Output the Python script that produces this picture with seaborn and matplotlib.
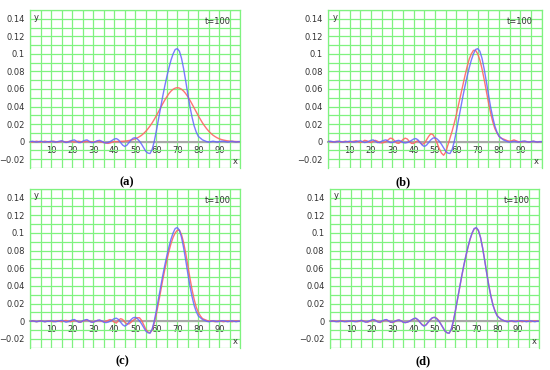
import numpy as np
import pandas as pd
import seaborn as sns
import matplotlib.pyplot as plt
from matplotlib.ticker import MultipleLocator, FixedLocator

# ---------------- data ----------------
X = list(range(0, 101))

BLUE = [0, 0.0005, 0, -0.0005, 0, 0.0005, 0, -0.0005, 0, 0,
        0.0005, 0, -0.0005, 0, 0.0005, 0.001, 0, -0.001, -0.0005, 0.0005,
        0.0015, 0.002, 0.0005, -0.001, -0.001, 0.0005, 0.0015, 0.002, 0.0005, -0.001,
        -0.001, 0, 0.001, 0.0015, 0.0005, -0.001, -0.0015, -0.001, 0, 0.0015,
        0.003, 0.0035, 0.002, -0.001, -0.004, -0.0055, -0.004, -0.001, 0.002, 0.004,
        0.0045, 0.003, 0.0005, -0.003, -0.007, -0.011, -0.013, -0.0135, -0.009, 0.0,
        0.012, 0.025, 0.038, 0.051, 0.063, 0.074, 0.084, 0.093, 0.1, 0.105,
        0.106, 0.103, 0.095, 0.083, 0.069, 0.054, 0.04, 0.028, 0.018, 0.011,
        0.006, 0.004, 0.002, 0.001, 0, -0.0005, 0, 0.0005, 0, -0.0005,
        0, 0.0005, 0.0005, 0, -0.0005, 0, 0.0005, 0, -0.0005, 0, 0]

RED_A = [0, -0.0005, 0, 0.0005, 0, -0.0005, 0, 0.0005, 0, -0.0005,
         0, 0.0005, 0, -0.0005, 0, 0.0005, 0, -0.0005, 0, 0.0005,
         0, -0.0005, 0, 0.0005, 0, -0.0005, 0, 0.0005, 0, 0,
         -0.0005, 0, 0.0005, 0, -0.0005, -0.001, -0.0015, -0.002, -0.0015, -0.0005,
         0, 0.0001, 0.0002, 0.0003, 0.0004, 0.0006, 0.0009, 0.0013, 0.0018, 0.0024,
         0.0032, 0.0043, 0.0057, 0.0073, 0.0094, 0.0118, 0.0146, 0.0178, 0.0213, 0.0253,
         0.0295, 0.0339, 0.0384, 0.0429, 0.0472, 0.0512, 0.0547, 0.0576, 0.0597, 0.061,
         0.0615, 0.061, 0.0597, 0.0576, 0.0547, 0.0512, 0.0472, 0.0429, 0.0384, 0.0339,
         0.0295, 0.0253, 0.0213, 0.0178, 0.0146, 0.0118, 0.0094, 0.0073, 0.0057, 0.0043,
         0.0032, 0.0024, 0.0018, 0.0013, 0.0009, 0.0006, 0.0004, 0.0002, 0.0001, 0, 0]

RED_B = [0.0005, 0, -0.0005, 0, 0.0005, 0, -0.0005, 0, 0.0005, 0,
         -0.0005, 0, 0.0005, 0.001, 0, -0.001, 0, 0.0015, 0.001, -0.0005,
         -0.001, 0.0005, 0.0015, 0.0005, -0.001, -0.0015, -0.001, 0, 0.002, 0.004,
         0.0035, 0.001, -0.0015, -0.002, 0, 0.0025, 0.004, 0.003, 0, -0.002,
         -0.002, 0, 0.001, -0.001, -0.003, -0.002, 0.002, 0.006, 0.009, 0.008,
         0.004, -0.002, -0.008, -0.013, -0.0155, -0.012, -0.004, 0.004, 0.012, 0.021,
         0.031, 0.042, 0.053, 0.064, 0.075, 0.085, 0.094, 0.1, 0.104, 0.104,
         0.1, 0.093, 0.083, 0.071, 0.058, 0.045, 0.033, 0.023, 0.015, 0.01,
         0.006, 0.004, 0.003, 0.002, 0.001, 0.0005, 0.001, 0.002, 0.001, 0,
         -0.0005, 0, 0.0005, 0, -0.0005, 0, 0.0005, 0, -0.0005, 0, 0]

RED_C = [0, 0.0005, 0, -0.0005, 0, 0.0005, 0, -0.0005, 0, 0.0005,
         0, -0.0005, 0, 0.0005, 0, -0.0005, 0.0005, 0.001, 0, -0.0005,
         0, 0.001, 0.0005, -0.0005, -0.001, 0, 0.001, 0.0015, 0.0005, -0.0005,
         -0.001, 0, 0.001, 0.001, 0, -0.0005, 0, 0.001, 0.002, 0.001,
         -0.001, -0.002, 0.001, 0.003, 0.002, -0.001, -0.003, -0.003, -0.001, 0.001,
         0.003, 0.004, 0.004, 0.001, -0.004, -0.009, -0.012, -0.013, -0.01, -0.002,
         0.008, 0.02, 0.033, 0.046, 0.058, 0.069, 0.079, 0.088, 0.095, 0.1,
         0.103, 0.103, 0.098, 0.089, 0.077, 0.063, 0.049, 0.036, 0.025, 0.016,
         0.01, 0.006, 0.003, 0.002, 0.001, 0, 0.0005, 0, -0.0005, 0,
         0.0005, 0, -0.0005, 0, 0.0005, 0, -0.0005, 0, 0.0005, 0, 0]

RED_D = [0, 0, 0.0005, 0, -0.0005, 0, 0.0005, 0, -0.0005, 0,
         0, 0.0005, 0, -0.0005, 0, 0.001, 0.0005, -0.0005, -0.001, 0,
         0.001, 0.0015, 0.001, -0.0005, -0.0015, 0, 0.001, 0.0015, 0.0005, -0.001,
         -0.0015, -0.0005, 0.001, 0.0015, 0.0005, -0.001, -0.0015, -0.001, 0, 0.0015,
         0.0025, 0.0035, 0.0015, -0.001, -0.0035, -0.005, -0.004, -0.001, 0.0015, 0.004,
         0.0045, 0.0035, 0.001, -0.003, -0.007, -0.011, -0.013, -0.0135, -0.0095, -0.0005,
         0.0115, 0.0245, 0.0375, 0.0505, 0.0625, 0.0735, 0.0835, 0.0925, 0.0995, 0.1045,
         0.1055, 0.1025, 0.095, 0.0835, 0.0695, 0.0545, 0.0405, 0.0285, 0.0185, 0.0115,
         0.0065, 0.004, 0.002, 0.001, 0, -0.0005, 0.0005, 0, -0.0005, 0,
         0.0005, 0, -0.0005, 0, 0.0005, 0, -0.0005, 0, 0.0005, 0, 0]

PANELS = ["(a)", "(b)", "(c)", "(d)"]
REDS = [RED_A, RED_B, RED_C, RED_D]

XTICKS = [10, 20, 30, 40, 50, 60, 70, 80, 90]
XTICK_LABELS = ["10", "20", "30", "40", "50", "60", "70", "80", "90"]
YTICKS = [-0.02, 0, 0.02, 0.04, 0.06, 0.08, 0.1, 0.12, 0.14]
YTICK_LABELS = ["\u22120.02", "0", "0.02", "0.04", "0.06", "0.08", "0.1", "0.12", "0.14"]
TIME_LABEL = "t=100"

# ---------------- style ----------------
sns.set_theme(style="white")
plt.rcParams['font.family'] = ['DejaVu Sans']

GREEN = "#7ff27f"
BLUE_C = "#6464ff"
RED_C_ = "#ff6464"
ZERO_C = "#a8a8a8"
TXT = "#333333"
FS = 6

fig = plt.figure(figsize=(5.5, 3.7), dpi=100)
fig.patch.set_facecolor("white")

AX_POS = [
    [0.055, 0.546, 0.382, 0.427],
    [0.597, 0.546, 0.388, 0.427],
    [0.055, 0.060, 0.382, 0.430],
    [0.600, 0.060, 0.380, 0.430],
]
LABEL_POS = [(0.231, 0.508), (0.733, 0.508), (0.222, 0.024), (0.769, 0.024)]

for pos, red, name, lpos in zip(AX_POS, REDS, PANELS, LABEL_POS):
    ax = fig.add_axes(pos)
    df_r = pd.DataFrame({"x": X, "y": red})
    df_b = pd.DataFrame({"x": X, "y": BLUE})
    sns.lineplot(data=df_r, x="x", y="y", color=RED_C_, lw=1.0, ax=ax, alpha=0.9, zorder=3)
    sns.lineplot(data=df_b, x="x", y="y", color=BLUE_C, lw=1.0, ax=ax, alpha=0.85, zorder=4)

    ax.set_xlim(0, 100)
    ax.set_ylim(-0.03, 0.15)
    ax.xaxis.set_major_locator(FixedLocator(XTICKS))
    ax.set_xticklabels(XTICK_LABELS)
    ax.xaxis.set_minor_locator(MultipleLocator(5))
    ax.yaxis.set_major_locator(FixedLocator(YTICKS))
    ax.set_yticklabels(YTICK_LABELS)
    ax.yaxis.set_minor_locator(MultipleLocator(0.01))
    ax.grid(which="both", color=GREEN, lw=0.9)
    ax.set_axisbelow(True)

    ax.spines["bottom"].set_position(("data", 0))
    ax.spines["bottom"].set_color(ZERO_C)
    ax.spines["bottom"].set_linewidth(1.5)
    ax.spines["bottom"].set_zorder(2)
    for s in ["top", "right", "left"]:
        ax.spines[s].set_color(GREEN)
        ax.spines[s].set_linewidth(0.9)

    ax.tick_params(axis="x", which="both", length=0, labelsize=FS, pad=3, colors=TXT)
    ax.tick_params(axis="y", which="major", length=3, width=0.6, color="#777777",
                   labelsize=FS, pad=1, labelcolor=TXT)
    ax.tick_params(axis="y", which="minor", length=0)
    ax.set_xlabel("")
    ax.set_ylabel("")

    ax.text(0.03, 0.955, "y", transform=ax.transAxes, fontsize=FS, color=TXT,
            ha="center", va="center")
    ax.text(0.975, 0.04, "x", transform=ax.transAxes, fontsize=FS, color=TXT,
            ha="center", va="center")
    ax.text(0.895, 0.925, TIME_LABEL, transform=ax.transAxes, fontsize=FS,
            color=TXT, ha="center", va="center")

    fig.text(lpos[0], lpos[1], name, fontsize=9, fontweight="bold",
             family="Liberation Serif", ha="center", va="center", color="black")

fig.savefig("out.png", dpi=100, facecolor="white")
